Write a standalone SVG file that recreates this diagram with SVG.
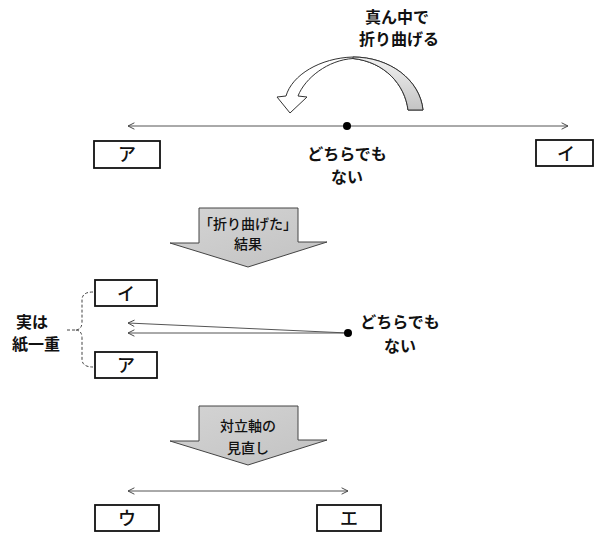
<svg xmlns="http://www.w3.org/2000/svg" width="595" height="533" viewBox="0 0 595 533">
<defs>
<style>
.t{font-family:"Noto Sans CJK JP","Noto Sans",sans-serif;font-size:16px;font-weight:700;fill:#111;text-anchor:middle}
.s{font-size:14px;font-weight:500}
.bx{fill:#fff;stroke:#111;stroke-width:1.8}
.bt{font-family:"Noto Sans CJK JP","Noto Sans",sans-serif;font-size:18px;font-weight:500;fill:#111;text-anchor:middle}
.ln{stroke:#555;stroke-width:1;fill:none}
.big{fill:url(#gg);stroke:#444;stroke-width:1}
</style>
<marker id="ch" viewBox="0 0 10 10" refX="9" refY="5" markerWidth="8" markerHeight="8" markerUnits="userSpaceOnUse" orient="auto-start-reverse">
<path d="M1,1 L9,5 L1,9" fill="none" stroke="#444" stroke-width="1.2"/>
</marker>
<linearGradient id="gg" x1="0" y1="0" x2="1" y2="1">
<stop offset="0" stop-color="#d4d4d4"/>
<stop offset="1" stop-color="#c2c2c2"/>
</linearGradient>
<linearGradient id="band" x1="0" y1="0" x2="0" y2="1">
<stop offset="0" stop-color="#f2f2f2"/>
<stop offset="1" stop-color="#c4c4c4"/>
</linearGradient>
</defs>

<g id="connectors">
<line class="ln" x1="128" y1="126" x2="568" y2="126" marker-start="url(#ch)" marker-end="url(#ch)"/>
<line class="ln" x1="348" y1="333" x2="128" y2="323" marker-end="url(#ch)"/>
<line class="ln" x1="348" y1="333" x2="128" y2="333" marker-end="url(#ch)"/>
<line class="ln" x1="128" y1="491" x2="348" y2="491" marker-start="url(#ch)" marker-end="url(#ch)"/>
<path d="M93,292 Q82,292 82,300 L82,322 Q82,330 75,330 Q82,330 82,338 L82,359 Q82,367 93,367 M75,330 L65,330" fill="none" stroke="#444" stroke-width="1" stroke-dasharray="3,2"/>
</g>

<g id="fold-arrow">
<path d="M286,96 C292,75 320,58 353,57 C390,57 420,80 423,110 L408,110 C405,85 385,62 353,58.5 C328,60 305,78 298,96 L307,97 L290,113 L277,97 Z" fill="#fff" stroke="#333" stroke-width="1"/>
<path d="M353,57 C390,57 420,80 423,110 L408,110 C405,85 385,62 353,58.5 Z" fill="url(#band)" stroke="#333" stroke-width="1"/>
</g>
<g id="fold-label">
<text class="t" x="397" y="23">真ん中で</text>
<text class="t" x="399" y="45">折り曲げる</text>
</g>

<g id="center-dot-top">
<circle cx="347" cy="126" r="4" fill="#000"/>
<text class="t" x="347" y="160">どちらでも</text>
<text class="t" x="347" y="183">ない</text>
</g>

<g id="box-a-top">
<rect class="bx" x="94" y="141" width="66" height="27"/>
<text class="bt" x="127" y="161">ア</text>
</g>
<g id="box-i-top">
<rect class="bx" x="536" y="140" width="57" height="26"/>
<text class="bt" x="566" y="160">イ</text>
</g>

<g id="arrow-result">
<polygon class="big" points="199,208 298,208 298,242 327,242 248,267 170,243 199,243"/>
<text class="t s" x="248" y="229">「折り曲げた」</text>
<text class="t s" x="248" y="249">結果</text>
</g>

<g id="box-i-mid">
<rect class="bx" x="95" y="280" width="62" height="26"/>
<text class="bt" x="126" y="300">イ</text>
</g>
<g id="box-a-mid">
<rect class="bx" x="95" y="352" width="62" height="26"/>
<text class="bt" x="126" y="372">ア</text>
</g>
<g id="label-kamihitoe">
<text class="t" x="32" y="328">実は</text>
<text class="t" x="36" y="350">紙一重</text>
</g>
<g id="center-dot-mid">
<circle cx="348" cy="333" r="4" fill="#000"/>
<text class="t" x="400" y="328">どちらでも</text>
<text class="t" x="400" y="352">ない</text>
</g>

<g id="arrow-review">
<polygon class="big" points="199,406 298,406 298,440 327,440 248,465 170,441 199,441"/>
<text class="t s" x="248" y="431">対立軸の</text>
<text class="t s" x="248" y="453">見直し</text>
</g>

<g id="box-u">
<rect class="bx" x="95" y="505" width="64" height="26"/>
<text class="bt" x="127" y="525">ウ</text>
</g>
<g id="box-e">
<rect class="bx" x="317" y="505" width="64" height="26"/>
<text class="bt" x="349" y="525">エ</text>
</g>
</svg>
